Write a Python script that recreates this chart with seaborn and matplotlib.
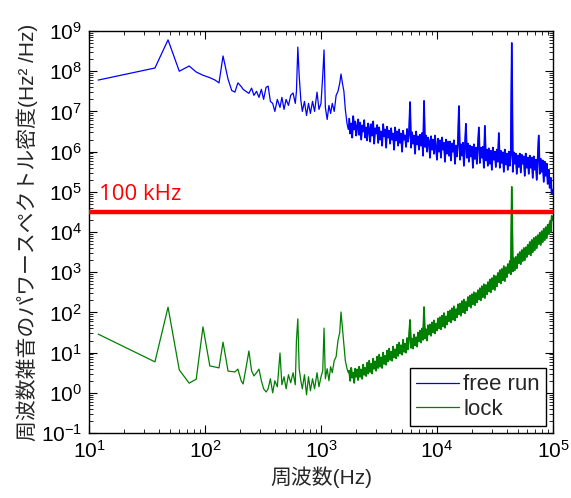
import numpy as np
import pandas as pd
import matplotlib
matplotlib.use("Agg")
import matplotlib.pyplot as plt
import seaborn as sns
from matplotlib.ticker import LogLocator, NullFormatter

# ---------------- data (frequencies in Hz, PSD values as log10(Hz^2/Hz)) ----------------
freq_low = [12, 37, 48, 60, 73, 84, 96, 110, 122, 132,
            143, 158, 170, 181, 192, 205, 213, 225, 239, 252,
            264, 278, 292, 306, 320, 336]
freq_mid = [350, 366, 383, 400, 420, 443, 460, 480, 500, 524,
            548, 574, 600, 614, 631, 648, 670, 690, 720, 750,
            780, 810, 845, 880, 924, 960, 1000, 1035, 1062, 1090,
            1130, 1170, 1210, 1250, 1300, 1350, 1400, 1450, 1487, 1530,
            1575, 1620, 1675, 1720]
freq_high = [1750, 1785, 1821, 1857, 1894, 1932, 1971, 2010, 2050, 2091,
             2133, 2176, 2219, 2264, 2309, 2355, 2402, 2450, 2499, 2549,
             2600, 2652, 2705, 2759, 2815, 2871, 2928, 2987, 3047, 3108,
             3170, 3233, 3298, 3364, 3431, 3500, 3570, 3641, 3714, 3788,
             3864, 3941, 4020, 4100, 4182, 4266, 4351, 4438, 4527, 4618,
             4710, 4804, 4900, 4998, 5098, 5200, 5304, 5410, 5519, 5629,
             5742, 5856, 5974, 6093, 6215, 6339, 6466, 6596, 6728, 6862,
             7000, 7140, 7282, 7428, 7576, 7728, 7882, 8040, 8201, 8365,
             8532, 8703, 8877, 9054, 9235, 9420, 9609, 9801, 9997, 10197,
             10401, 10609, 10821, 11038, 11258, 11484, 11713, 11948, 12187, 12430,
             12679, 12932, 13191, 13455, 13724, 13998, 14278, 14564, 14855, 15152,
             15455, 15764, 16080, 16401, 16729, 17064, 17405, 17753, 18108, 18470,
             18840, 19217, 19601, 19993, 20393, 20801, 21217, 21641, 22074, 22515,
             22966, 23425, 23894, 24371, 24859, 25356, 25863, 26380, 26908, 27446,
             27995, 28555, 29126, 29709, 30303, 30909, 31527, 32158, 32801, 33457,
             34126, 34809, 35505, 36215, 36939, 37678, 38432, 39200, 39984, 40784,
             41600, 42432, 43280, 44146, 45029, 45929, 46848, 47785, 48741, 49716,
             50710, 51724, 52759, 53814, 54890, 55988, 57108, 58250, 59415, 60603,
             61815, 63052, 64313, 65599, 66911, 68249, 69614, 71006, 72426, 73875,
             75352, 76859, 78396, 79964, 81564, 83195, 84859, 86556, 88287, 90053,
             91854, 93691, 95565, 97476, 99426]

free_run_low = [7.78, 8.08, 8.78, 8.00, 8.13, 7.98, 7.90, 7.84, 7.78, 7.71,
                8.38, 7.80, 7.52, 7.48, 7.71, 7.62, 7.55, 7.50, 7.45, 7.58,
                7.40, 7.50, 7.35, 7.55, 7.30, 7.60]
free_run_mid = [7.63, 7.25, 7.20, 7.00, 7.30, 7.10, 7.35, 7.05, 7.30, 7.15,
                7.40, 7.46, 7.20, 7.50, 8.60, 7.90, 7.28, 7.00, 7.25, 6.90,
                7.20, 6.95, 7.25, 7.00, 7.48, 7.05, 7.20, 7.90, 8.53, 7.10,
                6.80, 7.15, 6.95, 7.20, 7.00, 7.40, 7.50, 7.70, 7.93, 7.70,
                7.50, 7.05, 6.70, 6.55]
free_run_high = [6.82, 6.45, 6.70, 6.35, 6.88, 6.55, 6.75, 6.40, 6.62, 6.80,
                 6.42, 6.72, 6.30, 6.65, 6.50, 6.78, 6.35, 6.60, 6.28, 6.70,
                 6.55, 6.25, 6.68, 6.40, 6.75, 6.20, 6.58, 6.45, 6.66, 6.22,
                 6.60, 6.30, 6.50, 6.15, 6.68, 6.38, 6.55, 6.10, 6.62, 6.35,
                 6.52, 6.20, 6.58, 6.30, 6.45, 6.05, 6.60, 6.28, 6.50, 6.15,
                 6.55, 6.22, 6.45, 6.00, 6.52, 6.30, 6.40, 6.12, 6.56, 6.25,
                 6.45, 7.23, 6.10, 6.48, 6.20, 6.40, 5.95, 6.50, 6.18, 6.38,
                 6.05, 6.42, 6.15, 6.46, 5.90, 7.26, 6.12, 6.40, 6.00, 6.35,
                 6.25, 5.85, 6.38, 6.05, 6.30, 5.95, 6.40, 6.10, 5.80, 6.32,
                 6.00, 6.28, 5.85, 6.35, 6.05, 6.22, 5.75, 6.30, 5.95, 6.25,
                 5.90, 6.25, 5.78, 6.20, 6.00, 6.28, 5.70, 6.15, 5.88, 6.22,
                 7.13, 5.80, 6.18, 5.90, 6.22, 5.65, 6.12, 6.69, 5.85, 6.20,
                 5.75, 6.15, 5.88, 6.12, 5.60, 6.18, 5.82, 6.10, 5.70, 6.15,
                 6.60, 5.72, 6.10, 5.85, 6.12, 5.60, 6.64, 5.78, 6.05, 5.65,
                 6.08, 5.70, 6.02, 5.55, 6.10, 5.80, 6.00, 5.62, 6.05, 5.75,
                 6.46, 5.60, 6.02, 5.72, 5.98, 5.50, 6.05, 5.68, 5.95, 5.55,
                 6.00, 5.65, 5.92, 8.70, 5.50, 5.98, 5.70, 5.95, 5.45, 5.90,
                 5.62, 5.95, 5.48, 5.92, 5.70, 5.88, 5.40, 5.95, 5.60, 5.85,
                 5.45, 5.90, 5.60, 5.85, 5.35, 5.88, 5.55, 5.80, 5.30, 5.85,
                 6.40, 5.45, 5.82, 5.50, 5.78, 5.25, 5.75, 5.40, 5.70, 5.20,
                 5.55, 5.10, 5.35, 4.95, 5.05]

lock_low = [1.46, 0.77, 2.13, 0.57, 0.24, 0.34, 1.64, 0.67, 0.64, 0.62,
            1.26, 0.54, 0.53, 0.52, 0.59, 0.30, 0.22, 0.60, 1.04, 0.55,
            0.42, 0.50, 0.59, 0.30, 0.10, 0.02]
lock_mid = [0.10, 0.35, 0.00, 0.30, 0.15, 0.99, 0.20, 0.40, 0.10, 0.45,
            0.25, 0.50, 0.20, 1.31, 1.84, 0.60, 0.30, 0.10, 0.45, -0.05,
            0.40, 0.05, 0.35, 0.10, 0.50, 0.15, 0.40, 0.55, 1.61, 0.35,
            0.60, 0.30, 0.65, 0.50, 0.80, 0.90, 1.30, 1.50, 2.01, 1.60,
            1.20, 0.80, 0.60, 0.50]
lock_high = [0.55, 0.30, 0.62, 0.38, 0.50, 0.25, 0.60, 0.40, 0.58, 0.32,
             0.65, 0.40, 0.58, 0.35, 0.70, 0.45, 0.62, 0.42, 0.75, 0.48,
             0.80, 0.52, 0.72, 0.48, 0.85, 0.60, 0.78, 0.55, 0.90, 0.62,
             0.95, 0.65, 0.88, 0.62, 1.00, 0.72, 0.92, 0.70, 1.05, 0.78,
             1.10, 0.82, 1.02, 0.80, 1.15, 0.88, 1.08, 0.86, 1.20, 0.92,
             1.25, 0.98, 1.18, 0.95, 1.32, 1.02, 1.22, 1.00, 1.36, 1.08,
             1.40, 1.81, 1.12, 1.35, 1.10, 1.45, 1.18, 1.38, 1.15, 1.50,
             1.28, 1.55, 1.25, 1.60, 1.32, 2.13, 1.35, 1.58, 1.30, 1.68,
             1.45, 1.70, 1.42, 1.75, 1.50, 1.80, 1.48, 1.72, 1.55, 1.85,
             1.60, 1.88, 1.58, 1.92, 1.65, 1.98, 1.62, 1.90, 1.70, 2.02,
             1.78, 2.05, 1.75, 2.10, 1.82, 2.15, 1.80, 2.08, 1.88, 2.20,
             1.95, 2.22, 1.92, 2.28, 2.00, 2.32, 1.98, 2.26, 2.05, 2.38,
             2.15, 2.42, 2.12, 2.45, 2.20, 2.50, 2.18, 2.48, 2.25, 2.55,
             2.32, 2.60, 2.30, 2.65, 2.38, 2.70, 2.36, 2.68, 2.45, 2.75,
             2.52, 2.82, 2.50, 2.85, 2.58, 2.92, 2.56, 2.90, 2.65, 2.98,
             2.75, 3.05, 2.72, 3.08, 2.80, 3.15, 2.78, 3.12, 2.88, 3.20,
             2.98, 3.28, 2.95, 5.12, 3.02, 3.35, 3.05, 3.38, 3.10, 3.45,
             3.22, 3.50, 3.20, 3.55, 3.28, 3.60, 3.30, 3.62, 3.38, 3.68,
             3.45, 3.75, 3.42, 3.80, 3.50, 3.85, 3.55, 3.88, 3.60, 3.92,
             3.70, 3.98, 3.68, 4.02, 3.75, 4.08, 3.80, 4.12, 3.85, 4.18,
             3.95, 4.25, 4.00, 4.40, 4.30]

series_names = ["free run", "lock"]
series_colors = ["#0000ff", "#008000"]
threshold_psd = 3.16e4
threshold_label = "100 kHz"
x_label = "周波数(Hz)"
y_label = "周波数雑音のパワースペクトル密度(Hz² /Hz)"
x_limits = (1e1, 1e5)
y_limits = (1e-1, 1e9)

# ---------------- styling ----------------
sns.set_theme(style="ticks")
plt.rcParams["font.family"] = ["Liberation Sans", "Noto Sans CJK JP", "DejaVu Sans"]
plt.rcParams["mathtext.default"] = "regular"

freq = np.array(freq_low + freq_mid + freq_high, dtype=float)
free_run = 10.0 ** np.array(free_run_low + free_run_mid + free_run_high)
lock = 10.0 ** np.array(lock_low + lock_mid + lock_high)
palette = dict(zip(series_names, series_colors))

df = pd.DataFrame({
    "freq": np.concatenate([freq, freq]),
    "psd": np.concatenate([free_run, lock]),
    "series": [series_names[0]] * len(freq) + [series_names[1]] * len(freq),
})
# dense high-frequency noise region (drawn a bit heavier so it reads as a solid band)
df_band = df[df["freq"] >= freq_high[0]]

fig = plt.figure(figsize=(5.71, 4.98), dpi=100)
ax = fig.add_axes([0.1559, 0.1305, 0.8126, 0.8072])
ax.set_xscale("log")
ax.set_yscale("log")

sns.lineplot(data=df, x="freq", y="psd", hue="series", palette=palette,
             estimator=None, sort=False, linewidth=0.9, ax=ax)
sns.lineplot(data=df_band, x="freq", y="psd", hue="series", palette=palette,
             estimator=None, sort=False, linewidth=1.3, legend=False, ax=ax)

ax.axhline(threshold_psd, color="#ff0000", linewidth=3.2, zorder=5)
ax.text(12.3, 10 ** 4.8, threshold_label, color="#ff0000", fontsize=16,
        family=["Open Sans", "DejaVu Sans"], va="baseline", ha="left")

ax.set_xlim(*x_limits)
ax.set_ylim(*y_limits)
ax.xaxis.set_major_locator(LogLocator(base=10, numticks=10))
ax.yaxis.set_major_locator(LogLocator(base=10, numticks=20))
ax.xaxis.set_minor_locator(LogLocator(base=10, subs=np.arange(2, 10), numticks=20))
ax.yaxis.set_minor_locator(LogLocator(base=10, subs=np.arange(2, 10), numticks=20))
ax.xaxis.set_minor_formatter(NullFormatter())
ax.yaxis.set_minor_formatter(NullFormatter())

ax.tick_params(which="both", direction="in", top=True, right=True, colors="black")
ax.tick_params(which="major", length=6, width=0.8, labelsize=15, pad=5)
ax.tick_params(which="minor", length=3, width=0.6)
for s in ax.spines.values():
    s.set_color("black")
    s.set_linewidth(1.0)

ax.set_xlabel(x_label, fontsize=15, labelpad=3)
ax.set_ylabel(y_label, fontsize=15, labelpad=2)

handles, labels = ax.get_legend_handles_labels()
leg = ax.legend(handles[:2], labels[:2], loc="lower right", fontsize=16, frameon=True,
                fancybox=False, edgecolor="black", framealpha=1,
                handlelength=1.9, handletextpad=0.2, labelspacing=0.15,
                borderpad=0.3, borderaxespad=0.3, title=None)
leg.get_frame().set_linewidth(1.0)
for line in leg.get_lines():
    line.set_linewidth(0.9)

fig.savefig("out.png", dpi=100)
